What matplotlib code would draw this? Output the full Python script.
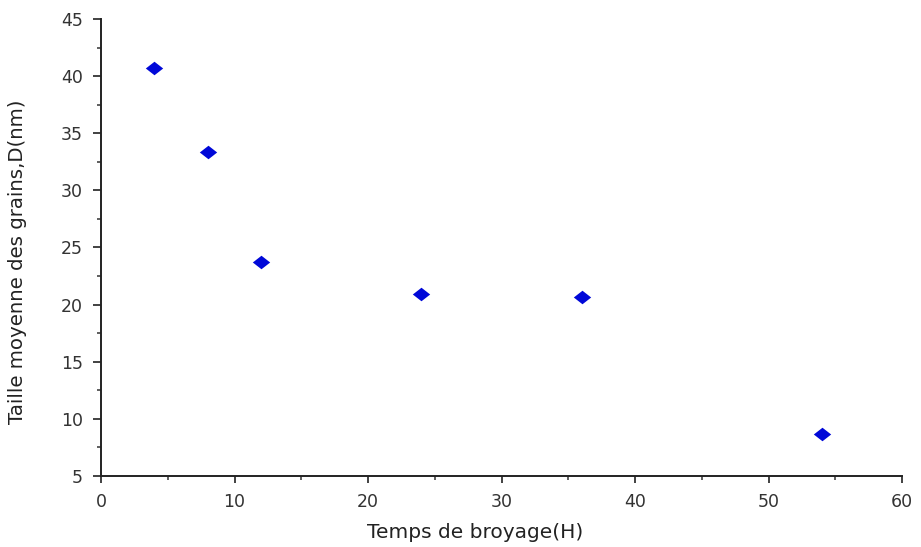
import numpy as np
import matplotlib
matplotlib.use('Agg')
from matplotlib import pyplot as plt
from matplotlib.path import Path
from matplotlib.ticker import MultipleLocator

# milling time (h) and mean grain size (nm)
temps = [4, 8, 12, 24, 36, 54]
taille = [40.7, 33.4, 23.7, 20.9, 20.7, 8.7]

plt.rcParams['font.family'] = ['DejaVu Sans']

# flat diamond marker, a bit wider than tall
diamond = Path([(-1, 0), (0, 0.78), (1, 0), (0, -0.78), (-1, 0)],
               [Path.MOVETO, Path.LINETO, Path.LINETO, Path.LINETO, Path.CLOSEPOLY])

fig = plt.figure(figsize=(9.21, 5.47), dpi=100)
ax = fig.add_axes([0.1097, 0.1298, 0.8697, 0.8355])
ax.plot(temps, taille, linestyle='none', marker=diamond, markersize=12.5,
        color='#0008d8', markeredgewidth=0)

ax.set_xlim(0, 60)
ax.set_ylim(5, 45)
ax.xaxis.set_major_locator(MultipleLocator(10))
ax.xaxis.set_minor_locator(MultipleLocator(5))
ax.yaxis.set_major_locator(MultipleLocator(5))
ax.yaxis.set_minor_locator(MultipleLocator(2.5))

for s in ['top', 'right']:
    ax.spines[s].set_visible(False)
for s in ['left', 'bottom']:
    ax.spines[s].set_linewidth(1.4)
    ax.spines[s].set_color('#222222')

ax.tick_params(which='major', direction='out', width=1.3,
               labelsize=12.5, colors='#333333')
ax.tick_params(axis='x', which='major', length=5, pad=7)
ax.tick_params(axis='y', which='major', length=6, pad=7)
ax.tick_params(which='minor', direction='out', length=3, width=1.1, colors='#333333')

ax.set_xlabel('Temps de broyage(H)', fontsize=14.5, color='#222222')
ax.set_ylabel('Taille moyenne des grains,D(nm)', fontsize=14.2, color='#222222')
ax.xaxis.set_label_coords(0.467, -0.103)
ax.yaxis.set_label_coords(-0.092, 0.468)

fig.savefig('out.png', dpi=100)
